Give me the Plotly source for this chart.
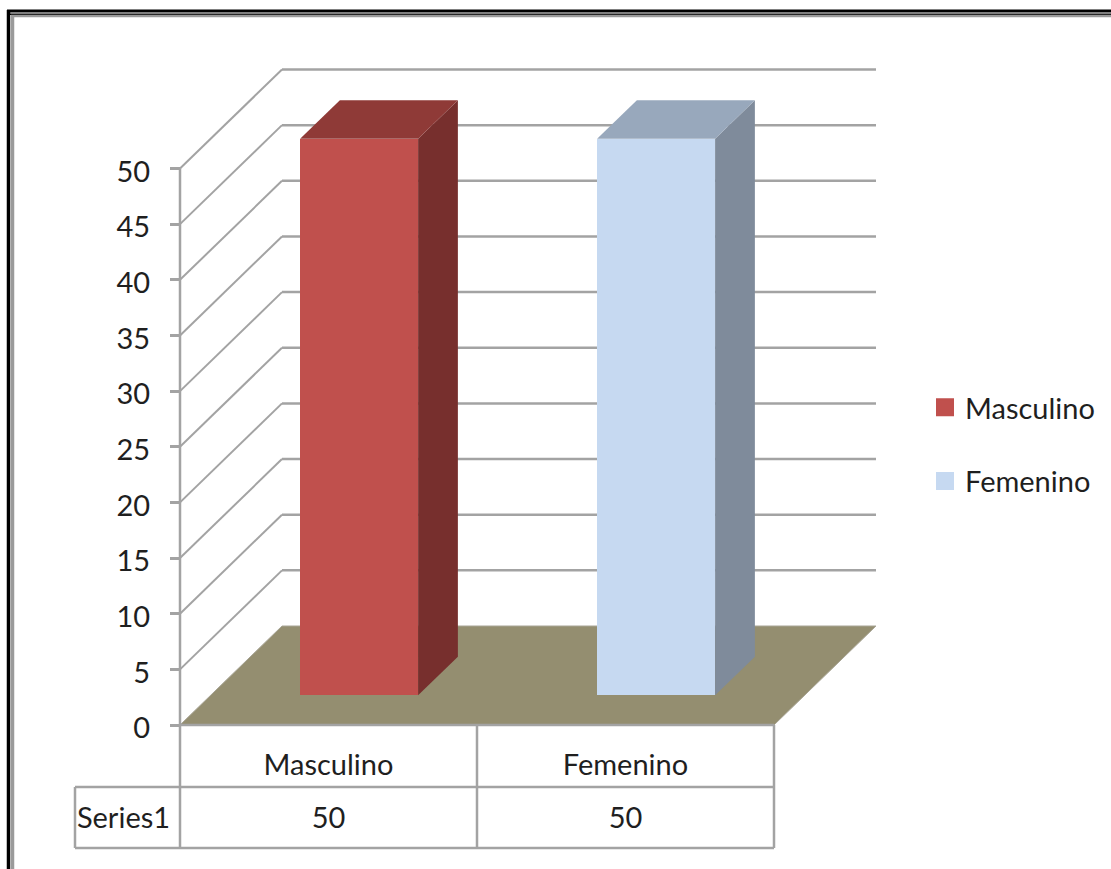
import plotly.graph_objects as go

categories = ["Masculino", "Femenino"]
series_name = "Series1"
values = [50, 50]
y_ticks = [0, 5, 10, 15, 20, 25, 30, 35, 40, 45, 50]

W, H = 1111, 869
FONT = "Lato"
FS = 29
TXT = "#1f1f1f"
GRID = "#a3a3a3"
front = ["#C0504D", "#C6D9F1"]
side = ["#772F2D", "#7F8B9B"]
top = ["#8F3A37", "#98A8BC"]
FLOOR = "#948E70"

# axis scales: pixels per unit, and where 0 sits
PX_X, X0_PX = 297.0, 180.0
PX_Y, Y0_PX = 11.13, 725.0
xr = [-X0_PX / PX_X, (W - X0_PX) / PX_X]
yr = [-(H - Y0_PX) / PX_Y, Y0_PX / PX_Y]

# oblique projection of depth
DX, DY = 102 / PX_X, 99 / PX_Y
LIFT = 0.30      # where the bars stand in the depth
BAR_D = 0.39     # how deep the bars are
BAR_W = 118 / PX_X
ROW1, ROW2 = -62 / PX_Y, -123 / PX_Y
ROW_TEXT = -95.5 / PX_Y
TABLE_L = -105 / PX_X
SERIES_X = -56.5 / PX_X


def px(x, y):
    return x / W, 1 - y / H


fig = go.Figure()
shapes = []


def line(x0, y0, x1, y1, color=GRID, width=2.5, ref="data"):
    if ref == "paper":
        x0, y0 = px(x0, y0)
        x1, y1 = px(x1, y1)
    shapes.append(dict(type="line", xref="paper" if ref == "paper" else "x",
                       yref="paper" if ref == "paper" else "y",
                       x0=x0, y0=y0, x1=x1, y1=y1, layer="below",
                       line=dict(color=color, width=width)))


n = len(categories)
# floor
shapes.append(dict(type="path", xref="x", yref="y", layer="below",
                   path=f"M0,0 L{DX},{DY} L{n + DX},{DY} L{n},0 Z",
                   fillcolor=FLOOR, line=dict(color="#a8a596", width=1)))
# walls
for t in y_ticks:
    if t:
        line(0, t, DX, t + DY, width=2)
        line(DX, t + DY, n + DX, t + DY)

# table grid
line(0, ROW2, 0, y_ticks[-1])
for i in range(1, n + 1):
    line(i, ROW2, i, 0)
line(0, 0, n, 0)
line(TABLE_L, ROW1, n, ROW1)
line(TABLE_L, ROW2, n, ROW2)
line(TABLE_L, ROW1, TABLE_L, ROW2)

# photo frame
line(7, 11, W, 11, "#000000", 3, "paper")
line(7, 14.2, W, 14.2, "#000000", 1.5, "paper")
line(11, 16, W, 16, "#9a9a9a", 2.5, "paper")
line(8.5, 10, 8.5, H, "#000000", 3.5, "paper")
line(12.5, 15, 12.5, H, "#9a9a9a", 3.5, "paper")

# bars
for i, (c, v) in enumerate(zip(categories, values)):
    cx = i + 0.5 + LIFT * DX
    fig.add_trace(go.Bar(x=[cx], y=[v], base=[LIFT * DY], width=[BAR_W],
                         marker=dict(color=front[i], line=dict(width=0)),
                         name=c, showlegend=False, hoverinfo="skip"))
    l, r = cx - BAR_W / 2, cx + BAR_W / 2
    b, t = LIFT * DY, LIFT * DY + v
    dx, dy = BAR_D * DX, BAR_D * DY
    fig.add_trace(go.Scatter(x=[r, r + dx, r + dx, r, r], y=[b, b + dy, t + dy, t, b],
                             mode="lines", fill="toself", fillcolor=side[i],
                             line=dict(width=0), showlegend=False, hoverinfo="skip"))
    fig.add_trace(go.Scatter(x=[l, l + dx, r + dx, r, l], y=[t, t + dy, t + dy, t, t],
                             mode="lines", fill="toself", fillcolor=top[i],
                             line=dict(width=0), showlegend=False, hoverinfo="skip"))
    # legend entry
    fig.add_trace(go.Scatter(x=[None], y=[None], mode="markers", name=c, legendgroup=c,
                             marker=dict(symbol="square", size=16, color=front[i],
                                         line=dict(color=front[i], width=2))))

# data table text
fig.add_trace(go.Scatter(x=[i + 0.5 for i in range(n)] + [SERIES_X], y=[ROW_TEXT] * (n + 1),
                         mode="text", text=[str(v) for v in values] + [series_name],
                         textposition="middle center",
                         textfont=dict(family=FONT, size=FS, color=TXT),
                         showlegend=False, hoverinfo="skip"))

fig.update_layout(
    width=W, height=H, margin=dict(l=0, r=0, t=0, b=0),
    paper_bgcolor="white", plot_bgcolor="rgba(0,0,0,0)",
    shapes=shapes, bargap=0,
    legend=dict(x=925 / W, xanchor="left", y=1 - 382 / H, yanchor="top",
                font=dict(family=FONT, size=FS, color=TXT),
                tracegroupgap=33, bgcolor="rgba(0,0,0,0)", itemsizing="trace"),
    xaxis=dict(range=xr, domain=[0, 1], anchor="free", position=(H - Y0_PX) / H,
               tickmode="array", tickvals=[i + 0.5 for i in range(n)], ticktext=categories,
               tickfont=dict(family=FONT, size=FS, color=TXT),
               ticks="", showgrid=False, zeroline=False, showline=False,
               ticklabelstandoff=20, automargin=False),
    yaxis=dict(range=yr, domain=[0, 1], anchor="free", position=X0_PX / W,
               tickmode="array", tickvals=y_ticks,
               tickfont=dict(family=FONT, size=FS, color=TXT),
               ticks="outside", ticklen=10, tickwidth=2.5, tickcolor=GRID,
               showgrid=False, zeroline=False, showline=False,
               ticklabelstandoff=14, ticklabelshift=3, automargin=False),
)

fig.write_html("out.html", config=dict(displayModeBar=False),
               post_script="document.body.style.margin='0';document.body.style.overflow='hidden';")
